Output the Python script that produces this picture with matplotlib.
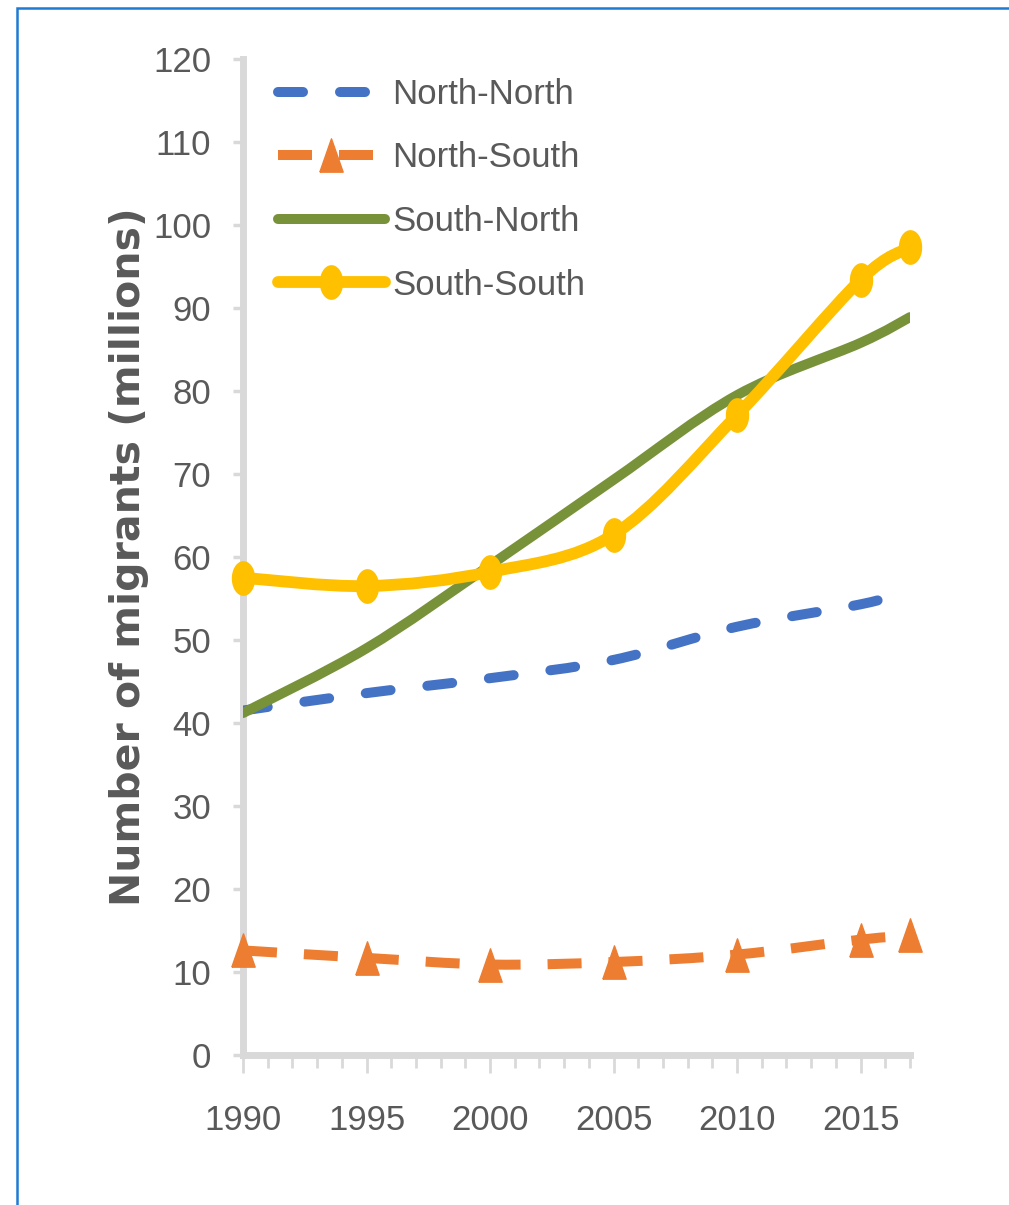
"""
migrant stocks by origin/destination, 1990-2017, Excel-like smoothed lines
"""
import numpy as np
import matplotlib
matplotlib.use("Agg")
import matplotlib.pyplot as plt
from matplotlib.path import Path
from matplotlib.patches import PathPatch, Rectangle
from matplotlib.lines import Line2D

plt.rcParams['font.family'] = ['Liberation Sans', 'DejaVu Sans']

years = [1990, 1995, 2000, 2005, 2010, 2015, 2017]
north_north = [41.5, 43.6, 45.4, 47.6, 51.6, 54.3, 55.9]
north_south = [12.6, 11.7, 10.9, 11.2, 12.1, 13.9, 14.4]
south_north = [41.2, 49.0, 59.0, 69.3, 79.5, 85.8, 88.9]
south_south = [57.5, 56.5, 58.2, 62.7, 77.1, 93.4, 97.3]
labels = ['North-North', 'North-South', 'South-North', 'South-South']

BLUE, ORANGE, GREEN, YELLOW = '#4472c4', '#ed7d31', '#78923a', '#ffc000'
GREY = '#595959'
AXIS = '#d9d9d9'


def smooth_path(x, y):
    # catmull-rom style bezier, roughly what excel's "smoothed line" does
    pts = np.column_stack([x, y]).astype(float)
    p = np.vstack([pts[0], pts, pts[-1]])
    verts, codes = [pts[0]], [Path.MOVETO]
    for i in range(1, len(p) - 2):
        c1 = p[i] + (p[i + 1] - p[i - 1]) / 6
        c2 = p[i + 1] - (p[i + 2] - p[i]) / 6
        verts += [c1, c2, p[i + 1]]
        codes += [Path.CURVE4] * 3
    return Path(verts, codes)


t = np.linspace(0, 2 * np.pi, 48)
ellipse = Path(np.column_stack([0.33 * np.cos(t), 0.5 * np.sin(t)]))
tri = Path([(-0.35, -0.5), (0.35, -0.5), (0, 0.5), (-0.35, -0.5)])

fig = plt.figure(figsize=(10.09, 12.05), dpi=100)
ax = fig.add_axes((243 / 1009, 1 - 1055 / 1205, 667 / 1009, 996 / 1205))

nn_ls = (0, (2.5, 3.7))
ns_ls = (0, (3.4, 2.7))

ax.add_patch(PathPatch(smooth_path(years, north_north), fill=False, ec=BLUE,
                       lw=7.2, ls=nn_ls, capstyle='round', zorder=3))
ax.add_patch(PathPatch(smooth_path(years, north_south), fill=False, ec=ORANGE,
                       lw=7.2, ls=ns_ls, capstyle='butt', zorder=3))
ax.plot(years, north_south, ls='none', marker=tri, ms=24, color=ORANGE,
        mec=ORANGE, zorder=4, clip_on=False)
ax.add_patch(PathPatch(smooth_path(years, south_north), fill=False, ec=GREEN,
                       lw=7.2, capstyle='round', zorder=5))
ax.add_patch(PathPatch(smooth_path(years, south_south), fill=False, ec=YELLOW,
                       lw=8.5, capstyle='round', zorder=6))
ax.plot(years, south_south, ls='none', marker=ellipse, ms=24, color=YELLOW,
        mec=YELLOW, zorder=7, clip_on=False)

ax.set_xlim(1990, 2017)
ax.set_ylim(0, 120)
ax.set_xticks(range(1990, 2016, 5))
ax.set_xticks(range(1990, 2018), minor=True)
ax.set_yticks(range(0, 121, 10))

for s in ['top', 'right']:
    ax.spines[s].set_visible(False)
for s in ['left', 'bottom']:
    ax.spines[s].set_color(AXIS)
    ax.spines[s].set_linewidth(5)

ax.tick_params(axis='y', length=7, width=2.5, color=AXIS, pad=16,
               labelsize=25, labelcolor=GREY)
ax.tick_params(axis='x', which='major', length=13, width=2, color=AXIS,
               pad=22, labelsize=25, labelcolor=GREY)
ax.tick_params(axis='x', which='minor', length=9.5, width=2, color=AXIS)

ax.set_ylabel('Number of migrants (millions)', fontsize=29.5, fontweight='bold',
              color=GREY, labelpad=3, family='DejaVu Sans')

handles = [
    Line2D([], [], color=BLUE, lw=7.2, ls=nn_ls, dash_capstyle='round'),
    Line2D([], [], color=ORANGE, lw=7.2, ls=ns_ls, dash_capstyle='butt',
           marker=tri, ms=24),
    Line2D([], [], color=GREEN, lw=7.2, solid_capstyle='round'),
    Line2D([], [], color=YELLOW, lw=8.5, solid_capstyle='round',
           marker=ellipse, ms=24),
]
leg = ax.legend(handles, labels, loc='upper left', bbox_to_anchor=(0.052, 0.981),
                frameon=False, fontsize=25, handlelength=3.08,
                handletextpad=0.23, labelspacing=0.88, borderpad=0,
                borderaxespad=0, markerscale=1)
for txt in leg.get_texts():
    txt.set_color(GREY)

fig.patches.append(Rectangle((17 / 1009, -0.05), 1.0, 1.05 - 8 / 1205,
                             transform=fig.transFigure, fill=False,
                             ec='#1f7ad4', lw=1.8))

fig.savefig('out.png', dpi=100)
